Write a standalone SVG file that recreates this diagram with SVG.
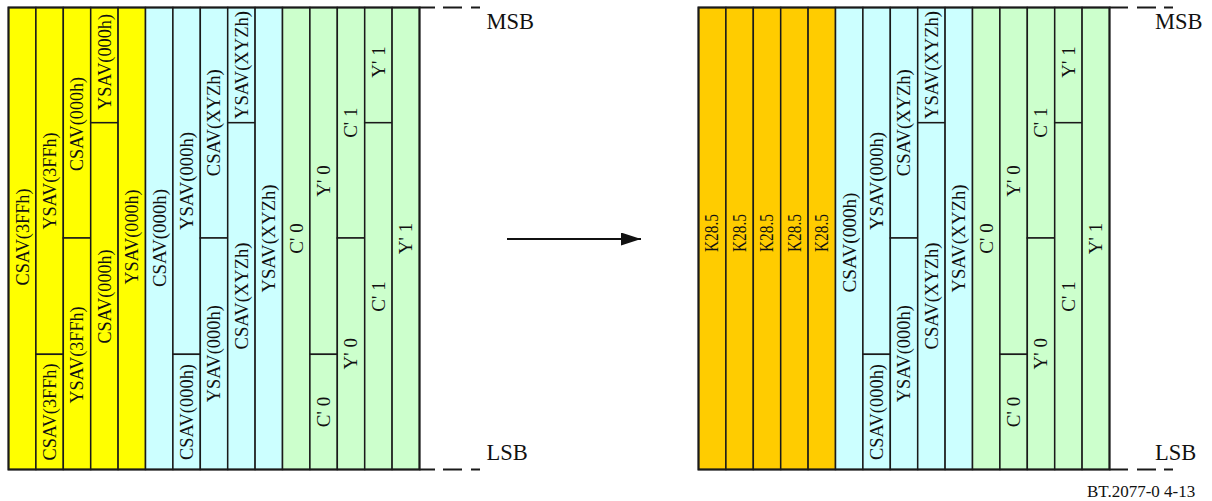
<svg xmlns="http://www.w3.org/2000/svg" width="1212" height="501" viewBox="0 0 1212 501">
<style>
  .y{fill:#FFFF00;stroke:#1a1a1a;stroke-width:1.5}
  .o{fill:#FFCC00;stroke:#1a1a1a;stroke-width:1.5}
  .c{fill:#CCFFFF;stroke:#1a1a1a;stroke-width:1.5}
  .g{fill:#CCFFCC;stroke:#1a1a1a;stroke-width:1.5}
  .frame{fill:none;stroke:#1a1a1a;stroke-width:2}
  text{font-family:"Liberation Serif","Times New Roman",serif;fill:#111}
  .t{font-size:19px;text-anchor:middle}
  .k{font-size:18.5px;text-anchor:middle}
  .lab{font-size:22.5px}
  .foot{font-size:17px}
  .dash{stroke:#1a1a1a;stroke-width:2;fill:none}
</style>
<defs>
  <marker id="ah" markerWidth="20" markerHeight="13" refX="20" refY="6.5" orient="auto" markerUnits="userSpaceOnUse">
    <polygon points="0,0 20,6.5 0,13" fill="#111"/>
  </marker>
</defs>

<!-- LEFT BLOCK -->
<g id="left-block">
  <g id="L1"><rect class="y" x="8.5" y="7.5" width="27.4" height="462"/><text class="t" transform="translate(22.2,237) rotate(-90)" y="6.3" textLength="97" lengthAdjust="spacingAndGlyphs">CSAV(3FFh)</text></g>
  <g id="L2a"><rect class="y" x="35.9" y="7.5" width="27.4" height="346.8"/><text class="t" transform="translate(49.6,181) rotate(-90)" y="6.3" textLength="97" lengthAdjust="spacingAndGlyphs">YSAV(3FFh)</text></g>
  <g id="L2b"><rect class="y" x="35.9" y="354.3" width="27.4" height="115.2"/><text class="t" transform="translate(49.6,412) rotate(-90)" y="6.3" textLength="97" lengthAdjust="spacingAndGlyphs">CSAV(3FFh)</text></g>
  <g id="L3a"><rect class="y" x="63.3" y="7.5" width="27.4" height="230.5"/><text class="t" transform="translate(77,124) rotate(-90)" y="6.3" textLength="94" lengthAdjust="spacingAndGlyphs">CSAV(000h)</text></g>
  <g id="L3b"><rect class="y" x="63.3" y="238" width="27.4" height="231.5"/><text class="t" transform="translate(77,355) rotate(-90)" y="6.3" textLength="97" lengthAdjust="spacingAndGlyphs">YSAV(3FFh)</text></g>
  <g id="L4a"><rect class="y" x="90.7" y="7.5" width="27.4" height="115.2"/><text class="t" transform="translate(104.4,62) rotate(-90)" y="6.3" textLength="96" lengthAdjust="spacingAndGlyphs">YSAV(000h)</text></g>
  <g id="L4b"><rect class="y" x="90.7" y="122.7" width="27.4" height="346.8"/><text class="t" transform="translate(104.4,296.5) rotate(-90)" y="6.3" textLength="94" lengthAdjust="spacingAndGlyphs">CSAV(000h)</text></g>
  <g id="L5"><rect class="y" x="118.1" y="7.5" width="27.4" height="462"/><text class="t" transform="translate(131.8,237) rotate(-90)" y="6.3" textLength="95" lengthAdjust="spacingAndGlyphs">YSAV(000h)</text></g>

  <g id="L6"><rect class="c" x="145.5" y="7.5" width="27.4" height="462"/><text class="t" transform="translate(159.2,238) rotate(-90)" y="6.3" textLength="98" lengthAdjust="spacingAndGlyphs">CSAV(000h)</text></g>
  <g id="L7a"><rect class="c" x="172.9" y="7.5" width="27.4" height="346.8"/><text class="t" transform="translate(186.6,181) rotate(-90)" y="6.3" textLength="98" lengthAdjust="spacingAndGlyphs">YSAV(000h)</text></g>
  <g id="L7b"><rect class="c" x="172.9" y="354.3" width="27.4" height="115.2"/><text class="t" transform="translate(186.6,412) rotate(-90)" y="6.3" textLength="96" lengthAdjust="spacingAndGlyphs">CSAV(000h)</text></g>
  <g id="L8a"><rect class="c" x="200.3" y="7.5" width="27.4" height="230.5"/><text class="t" transform="translate(214,122.7) rotate(-90)" y="6.3" textLength="107" lengthAdjust="spacingAndGlyphs">CSAV(XYZh)</text></g>
  <g id="L8b"><rect class="c" x="200.3" y="238" width="27.4" height="231.5"/><text class="t" transform="translate(214,353.7) rotate(-90)" y="6.3" textLength="97" lengthAdjust="spacingAndGlyphs">YSAV(000h)</text></g>
  <g id="L9a"><rect class="c" x="227.7" y="7.5" width="27.4" height="115.2"/><text class="t" transform="translate(241.4,65) rotate(-90)" y="6.3" textLength="108" lengthAdjust="spacingAndGlyphs">YSAV(XYZh)</text></g>
  <g id="L9b"><rect class="c" x="227.7" y="122.7" width="27.4" height="346.8"/><text class="t" transform="translate(241.4,296) rotate(-90)" y="6.3" textLength="107" lengthAdjust="spacingAndGlyphs">CSAV(XYZh)</text></g>
  <g id="L10"><rect class="c" x="255.1" y="7.5" width="27.4" height="462"/><text class="t" transform="translate(268.8,238.5) rotate(-90)" y="6.3" textLength="108" lengthAdjust="spacingAndGlyphs">YSAV(XYZh)</text></g>

  <g id="L11"><rect class="g" x="282.5" y="7.5" width="27.4" height="462"/><text class="t" transform="translate(296.2,238.5) rotate(-90)" y="6.3">C' 0</text></g>
  <g id="L12a"><rect class="g" x="309.9" y="7.5" width="27.4" height="346.8"/><text class="t" transform="translate(323.6,181) rotate(-90)" y="6.3">Y' 0</text></g>
  <g id="L12b"><rect class="g" x="309.9" y="354.3" width="27.4" height="115.2"/><text class="t" transform="translate(323.6,412) rotate(-90)" y="6.3">C' 0</text></g>
  <g id="L13a"><rect class="g" x="337.3" y="7.5" width="27.4" height="230.5"/><text class="t" transform="translate(351,122.7) rotate(-90)" y="6.3">C' 1</text></g>
  <g id="L13b"><rect class="g" x="337.3" y="238" width="27.4" height="231.5"/><text class="t" transform="translate(351,353.7) rotate(-90)" y="6.3">Y' 0</text></g>
  <g id="L14a"><rect class="g" x="364.7" y="7.5" width="27.4" height="115.2"/><text class="t" transform="translate(378.4,62) rotate(-90)" y="6.3">Y' 1</text></g>
  <g id="L14b"><rect class="g" x="364.7" y="122.7" width="27.4" height="346.8"/><text class="t" transform="translate(378.4,296.5) rotate(-90)" y="6.3">C' 1</text></g>
  <g id="L15"><rect class="g" x="392.1" y="7.5" width="27.4" height="462"/><text class="t" transform="translate(405.8,238.5) rotate(-90)" y="6.3">Y' 1</text></g>
  <rect class="frame" x="8.5" y="7.5" width="411" height="462"/>
</g>

<!-- RIGHT BLOCK -->
<g id="right-block">
  <g id="R1"><rect class="o" x="698.5" y="7.5" width="27.4" height="462"/><text class="k" transform="translate(712.2,233) rotate(-90)" y="6.2" textLength="38" lengthAdjust="spacingAndGlyphs">K28.5</text></g>
  <g id="R2"><rect class="o" x="725.9" y="7.5" width="27.4" height="462"/><text class="k" transform="translate(739.6,233) rotate(-90)" y="6.2" textLength="38" lengthAdjust="spacingAndGlyphs">K28.5</text></g>
  <g id="R3"><rect class="o" x="753.3" y="7.5" width="27.4" height="462"/><text class="k" transform="translate(767,233) rotate(-90)" y="6.2" textLength="38" lengthAdjust="spacingAndGlyphs">K28.5</text></g>
  <g id="R4"><rect class="o" x="780.7" y="7.5" width="27.4" height="462"/><text class="k" transform="translate(794.4,233) rotate(-90)" y="6.2" textLength="38" lengthAdjust="spacingAndGlyphs">K28.5</text></g>
  <g id="R5"><rect class="o" x="808.1" y="7.5" width="27.4" height="462"/><text class="k" transform="translate(821.8,233) rotate(-90)" y="6.2" textLength="38" lengthAdjust="spacingAndGlyphs">K28.5</text></g>

  <g id="R6"><rect class="c" x="835.5" y="7.5" width="27.4" height="462"/><text class="t" transform="translate(849.2,242.5) rotate(-90)" y="6.3" textLength="100" lengthAdjust="spacingAndGlyphs">CSAV(000h)</text></g>
  <g id="R7a"><rect class="c" x="862.9" y="7.5" width="27.4" height="346.8"/><text class="t" transform="translate(876.6,181) rotate(-90)" y="6.3" textLength="98" lengthAdjust="spacingAndGlyphs">YSAV(000h)</text></g>
  <g id="R7b"><rect class="c" x="862.9" y="354.3" width="27.4" height="115.2"/><text class="t" transform="translate(876.6,412) rotate(-90)" y="6.3" textLength="96" lengthAdjust="spacingAndGlyphs">CSAV(000h)</text></g>
  <g id="R8a"><rect class="c" x="890.3" y="7.5" width="27.4" height="230.5"/><text class="t" transform="translate(904,122.7) rotate(-90)" y="6.3" textLength="107" lengthAdjust="spacingAndGlyphs">CSAV(XYZh)</text></g>
  <g id="R8b"><rect class="c" x="890.3" y="238" width="27.4" height="231.5"/><text class="t" transform="translate(904,353.7) rotate(-90)" y="6.3" textLength="97" lengthAdjust="spacingAndGlyphs">YSAV(000h)</text></g>
  <g id="R9a"><rect class="c" x="917.7" y="7.5" width="27.4" height="115.2"/><text class="t" transform="translate(931.4,65) rotate(-90)" y="6.3" textLength="108" lengthAdjust="spacingAndGlyphs">YSAV(XYZh)</text></g>
  <g id="R9b"><rect class="c" x="917.7" y="122.7" width="27.4" height="346.8"/><text class="t" transform="translate(931.4,296) rotate(-90)" y="6.3" textLength="107" lengthAdjust="spacingAndGlyphs">CSAV(XYZh)</text></g>
  <g id="R10"><rect class="c" x="945.1" y="7.5" width="27.4" height="462"/><text class="t" transform="translate(958.8,238.5) rotate(-90)" y="6.3" textLength="108" lengthAdjust="spacingAndGlyphs">YSAV(XYZh)</text></g>

  <g id="R11"><rect class="g" x="972.5" y="7.5" width="27.4" height="462"/><text class="t" transform="translate(986.2,238.5) rotate(-90)" y="6.3">C' 0</text></g>
  <g id="R12a"><rect class="g" x="999.9" y="7.5" width="27.4" height="346.8"/><text class="t" transform="translate(1013.6,181) rotate(-90)" y="6.3">Y' 0</text></g>
  <g id="R12b"><rect class="g" x="999.9" y="354.3" width="27.4" height="115.2"/><text class="t" transform="translate(1013.6,412) rotate(-90)" y="6.3">C' 0</text></g>
  <g id="R13a"><rect class="g" x="1027.3" y="7.5" width="27.4" height="230.5"/><text class="t" transform="translate(1041,122.7) rotate(-90)" y="6.3">C' 1</text></g>
  <g id="R13b"><rect class="g" x="1027.3" y="238" width="27.4" height="231.5"/><text class="t" transform="translate(1041,353.7) rotate(-90)" y="6.3">Y' 0</text></g>
  <g id="R14a"><rect class="g" x="1054.7" y="7.5" width="27.4" height="115.2"/><text class="t" transform="translate(1068.4,62) rotate(-90)" y="6.3">Y' 1</text></g>
  <g id="R14b"><rect class="g" x="1054.7" y="122.7" width="27.4" height="346.8"/><text class="t" transform="translate(1068.4,296.5) rotate(-90)" y="6.3">C' 1</text></g>
  <g id="R15"><rect class="g" x="1082.1" y="7.5" width="27.4" height="462"/><text class="t" transform="translate(1095.8,238.5) rotate(-90)" y="6.3">Y' 1</text></g>
  <rect class="frame" x="698.5" y="7.5" width="411" height="462"/>
</g>

<!-- MSB / LSB extension lines and labels -->
<g id="markers-left">
  <path class="dash" d="M419.5,7.5H435M443,7.5H462M471,7.5H480M419.5,469.5H435M443,469.5H462M471,469.5H480"/>
  <text class="lab" x="486.5" y="29">MSB</text>
  <text class="lab" x="486.5" y="460">LSB</text>
</g>
<g id="markers-right">
  <path class="dash" d="M1109.5,7.5H1128M1137,7.5H1156M1164,7.5H1173M1109.5,469.5H1128M1137,469.5H1156M1164,469.5H1173"/>
  <text class="lab" x="1155" y="29">MSB</text>
  <text class="lab" x="1155" y="460">LSB</text>
</g>

<!-- connector -->
<g id="connectors">
  <line x1="507" y1="239" x2="641" y2="239" stroke="#111" stroke-width="2" marker-end="url(#ah)"/>
</g>

<text class="foot" x="1087" y="497">BT.2077-0 4-13</text>
</svg>
